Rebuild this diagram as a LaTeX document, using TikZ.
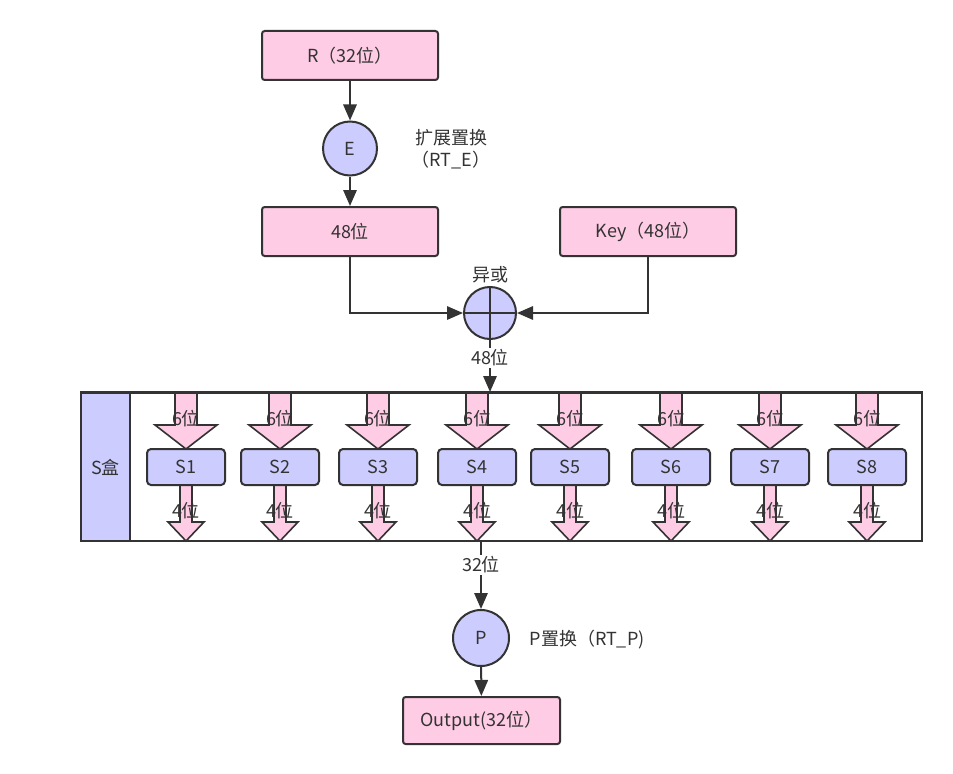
\documentclass[tikz,border=0pt]{standalone}
\usepackage{fontspec}
\setmainfont{Noto Sans CJK SC}
\usetikzlibrary{arrows.meta}
\definecolor{pinkf}{HTML}{FFCCE6}
\definecolor{lav}{HTML}{CCCCFF}
\definecolor{edge}{HTML}{333333}
\begin{document}
\begin{tikzpicture}[x=0.75pt,y=-0.75pt,
  every node/.style={font=\fontsize{13.5}{16.5}\selectfont, text=edge},
  box/.style={draw=edge, line width=1.5pt, fill=pinkf, rounded corners=2pt, minimum width=132pt, minimum height=36.75pt, inner sep=0pt},
  circ/.style={circle, draw=edge, line width=1.5pt, fill=lav, inner sep=0pt},
  sb/.style={draw=edge, line width=1.5pt, fill=lav, rounded corners=3pt, minimum width=58.5pt, minimum height=27pt, inner sep=0pt},
  conn/.style={draw=edge, line width=1.5pt, -{Triangle[length=12pt,width=10pt]}},
  plain/.style={draw=edge, line width=1.5pt},
  lbl/.style={inner sep=1pt},
  blk/.style={draw=edge, line width=1.2pt, fill=pinkf, line join=miter}
]
\useasboundingbox (0,0) rectangle (953,774);

% top part
\node[box] (R) at (350,55.5) {R（32位）};
\node[circ, minimum size=40.5pt] (E) at (350,148.5) {E};
\node[lbl, align=center] (Elbl) at (451,149) {扩展置换\\（RT\_E）};
\node[box] (b48) at (350,231.5) {48位};
\node[box] (key) at (648,231.5) {Key（48位）};
\node[circ, minimum size=39pt] (xor) at (490,313) {};
\draw[plain] (xor.north) -- (xor.south);
\draw[plain] (xor.west) -- (xor.east);
\node[lbl] (xorlbl) at (490,275) {异或};

\draw[conn] (R) -- (E);
\draw[conn] (E) -- (b48);
\draw[conn] (b48.south) |- (xor.west);
\draw[conn] (key.south) |- (xor.east);

% S box frame
\node[draw=edge, line width=1.5pt, fill=white, minimum width=630.75pt, minimum height=111pt, inner sep=0pt] (frame) at (501.5,467) {};
\node[draw=edge, line width=1.5pt, fill=lav, minimum width=36.75pt, minimum height=111pt, inner sep=0pt] (panel) at (105.5,467) {S盒};

\draw[conn] (xor.south) -- (xor.south |- frame.north);
\node[lbl, fill=white] (l48) at (490,358) {48位};

\foreach \c/\n in {186/1,280/2,378/3,477/4,570/5,671/6,770/7,867/8}{
  \draw[blk] (\c-11,393) -- (\c+11,393) -- (\c+11,425) -- (\c+31,425) -- (\c,449) -- (\c-31,425) -- (\c-11,425) -- cycle;
  \draw[blk] (\c-6,485) -- (\c+6,485) -- (\c+6,522) -- (\c+18,522) -- (\c,541) -- (\c-18,522) -- (\c-6,522) -- cycle;
  \node[sb] (s\n) at (\c,467) {S\n};
  \node[lbl] (six\n) at (\c,419) {6位};
  \node[lbl] (four\n) at (\c,511) {4位};
}
\draw[edge, line width=1.5pt] (frame.north west) -- (frame.north east);

% bottom part
\node[circ, minimum size=42pt] (P) at (481,638) {P};
\node[lbl, anchor=west] (Plbl) at (528,640) {P置换（RT\_P)};
\node[box, minimum width=117.75pt, minimum height=35.25pt] (out) at (481.5,720.5) {Output(32位）};
\draw[conn] (frame.south -| P) -- (P);
\node[lbl, fill=white] (l32) at (481,565) {32位};
\draw[conn] (P) -- (out);
\end{tikzpicture}
\end{document}
